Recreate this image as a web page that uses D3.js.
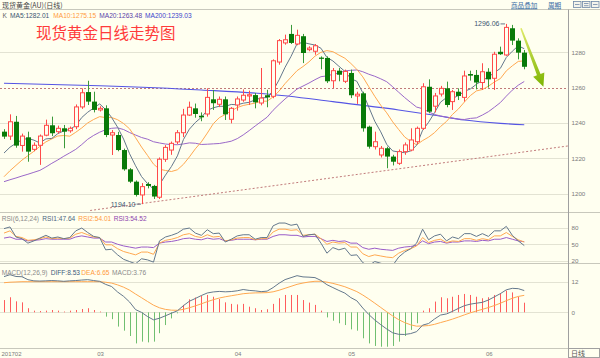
<!DOCTYPE html>
<html><head><meta charset="utf-8">
<script src="https://cdn.jsdelivr.net/npm/d3@7"></script>
<style>
html,body{margin:0;padding:0;background:#fffff0;}
svg{display:block;font-family:"Liberation Sans","DejaVu Sans",sans-serif;}
</style></head><body>
<svg id="c" width="600" height="358"></svg>
<script>
// ---------- DATA ----------
const dates = ["02-07","02-08","02-09","02-10","02-13","02-14","02-15","02-16","02-17","02-20","02-21","02-22","02-23","02-24","02-27","02-28",
"03-01","03-02","03-03","03-06","03-07","03-08","03-09","03-10","03-13","03-14","03-15","03-16","03-17","03-20","03-21","03-22","03-23","03-24","03-27","03-28","03-29","03-30","03-31",
"04-03","04-04","04-05","04-06","04-07","04-10","04-11","04-12","04-13","04-17","04-18","04-19","04-20","04-21","04-24","04-25","04-26","04-27","04-28",
"05-01","05-02","05-03","05-04","05-05","05-08","05-09","05-10","05-11","05-12","05-15","05-16","05-17","05-18","05-19","05-22","05-23","05-24","05-25","05-26","05-29","05-30","05-31",
"06-01","06-02","06-05","06-06","06-07","06-08","06-09"].map(d=>"2017-"+d);

const open = [1235.1,1232.6,1240.7,1227.3,1231.9,1225.1,1227.4,1233.1,1238.7,1235.1,
1237.0,1235.6,1237.9,1249.1,1257.5,1252.1,1247.4,1248.3,1233.2,1233.2,
1224.7,1213.8,1206.8,1199.3,1205.5,1204.4,1198.0,1219.5,1224.7,1229.3,
1234.5,1244.5,1248.3,1244.1,1245.1,1253.4,1250.6,1253.4,1242.1,1250.2,
1253.0,1255.3,1255.8,1251.3,1255.7,1255.1,1274.5,1285.3,1290.4,1284.7,
1289.1,1281.5,1280.6,1277.0,1276.8,1263.9,1269.6,1263.6,1268.3,1255.3,
1256.8,1237.9,1226.6,1221.9,1225.7,1221.0,1217.2,1223.8,1224.7,1229.4,
1237.0,1260.5,1249.5,1256.4,1259.6,1252.1,1257.7,1254.5,1267.7,1267.2,
1262.9,1269.0,1265.3,1280.3,1278.5,1293.6,1286.6,1279.8];
const high = [1236.5,1244.9,1244.0,1234.0,1235.1,1229.0,1233.5,1241.9,1243.6,1238.5,
1238.9,1238.0,1250.5,1259.6,1263.9,1257.7,1249.5,1250.0,1236.0,1235.0,
1225.5,1214.5,1207.5,1206.0,1206.5,1205.0,1220.5,1227.5,1229.5,1236.0,
1248.0,1252.1,1251.0,1246.0,1259.6,1258.7,1255.0,1255.0,1249.0,1255.0,
1259.0,1258.3,1257.0,1271.1,1258.8,1276.0,1287.5,1290.0,1295.5,1292.8,
1290.4,1283.4,1284.7,1277.7,1277.7,1271.1,1271.1,1270.2,1270.2,1257.7,
1257.7,1238.5,1235.1,1227.0,1226.6,1222.0,1225.0,1229.0,1237.0,1238.0,
1262.5,1264.7,1257.0,1261.0,1263.4,1258.7,1259.6,1269.6,1269.6,1270.0,
1273.8,1271.0,1280.3,1283.2,1296.06,1295.5,1287.9,1281.3];
const low = [1231.0,1230.4,1226.0,1223.8,1218.1,1224.0,1216.3,1232.5,1232.6,1234.0,
1225.7,1234.5,1236.5,1248.0,1250.2,1246.0,1246.5,1232.0,1221.9,1224.0,
1213.0,1206.0,1198.4,1194.1,1203.0,1197.0,1197.0,1218.0,1222.0,1228.0,
1232.0,1244.0,1243.0,1241.0,1243.6,1247.4,1249.0,1241.7,1239.8,1247.0,
1252.0,1250.2,1248.3,1250.0,1248.9,1254.0,1273.0,1284.3,1284.7,1284.0,
1273.9,1280.6,1278.6,1270.4,1262.6,1259.8,1263.6,1262.6,1254.1,1250.8,
1235.1,1225.5,1225.0,1220.5,1214.4,1216.0,1216.3,1222.0,1224.0,1228.0,
1236.0,1245.5,1246.0,1255.0,1248.9,1247.4,1253.0,1252.1,1264.0,1259.0,
1258.7,1260.0,1258.7,1278.5,1278.0,1284.1,1276.0,1270.4];
const close = [1232.3,1240.7,1227.2,1232.6,1223.8,1227.4,1232.6,1238.7,1234.2,1237.0,
1235.1,1237.0,1249.1,1257.1,1252.1,1247.4,1248.3,1233.2,1234.5,1224.7,
1213.8,1206.8,1199.3,1204.0,1204.4,1198.4,1219.5,1226.2,1228.5,1234.5,
1244.5,1248.9,1245.1,1243.2,1254.5,1251.2,1253.4,1244.9,1248.3,1253.6,
1255.7,1256.0,1251.7,1254.1,1254.5,1275.2,1286.6,1287.1,1285.3,1289.6,
1279.6,1282.4,1283.7,1276.3,1263.6,1269.6,1267.3,1269.2,1255.7,1256.3,
1237.0,1226.6,1229.4,1225.7,1221.0,1218.1,1223.8,1227.6,1230.4,1237.0,
1260.5,1246.4,1255.3,1259.6,1250.2,1257.7,1255.3,1266.6,1266.8,1262.9,
1269.0,1264.7,1278.9,1278.9,1294.1,1286.6,1279.8,1271.8];

const ma5 = [1223.0,1226.3,1228.5,1230.5,1231.3,1230.3,1228.7,1231.0,1231.3,1234.0,
1235.5,1236.4,1238.5,1243.1,1246.1,1248.5,1250.8,1247.6,1243.1,1237.6,
1230.9,1222.6,1215.8,1209.7,1205.7,1202.6,1205.1,1210.5,1215.4,1221.4,
1230.6,1236.5,1240.3,1243.2,1247.2,1248.6,1249.5,1249.4,1250.5,1250.3,
1251.2,1251.7,1253.1,1254.2,1254.4,1258.3,1264.4,1271.5,1277.7,1284.8,
1285.6,1284.8,1284.1,1282.3,1277.1,1275.1,1272.1,1269.2,1265.1,1263.6,
1257.1,1249.0,1241.0,1235.0,1227.9,1224.2,1223.6,1223.2,1224.2,1227.4,
1235.9,1240.4,1245.9,1251.8,1254.4,1253.8,1255.6,1257.9,1259.3,1261.9,
1264.1,1266.0,1268.5,1270.9,1277.1,1280.6,1283.7,1282.01];
const ma10 = [1209.6,1213.0,1216.0,1219.0,1221.5,1224.0,1226.8,1229.3,1231.0,1232.65,
1232.9,1232.55,1234.75,1237.2,1240.05,1242.0,1243.6,1243.05,1243.1,1241.85,
1239.7,1236.7,1231.7,1226.4,1221.65,1216.75,1213.85,1213.15,1212.55,1213.55,
1216.6,1220.8,1225.4,1229.3,1234.3,1239.6,1243.0,1244.85,1246.85,1248.75,
1249.9,1250.6,1251.25,1252.35,1252.35,1254.75,1258.05,1262.3,1265.95,1269.6,
1271.95,1274.6,1277.8,1280.0,1280.95,1280.35,1278.45,1276.65,1273.7,1270.35,
1266.1,1260.55,1255.1,1250.05,1245.75,1240.65,1236.3,1232.1,1229.6,1227.65,
1230.05,1232.0,1234.55,1238.0,1240.9,1244.85,1248.0,1251.9,1255.55,1258.15,
1258.95,1260.8,1263.2,1265.1,1269.5,1272.35,1274.85,1275.15];
const ma20 = [1206.8,1207.9,1208.9,1210.0,1211.0,1212.1,1213.2,1215.1,1217.2,1219.1,
1221.2,1223.1,1225.1,1227.8,1230.8,1233.0,1234.8,1236.2,1237.0,1237.25,
1236.3,1234.6,1233.2,1231.8,1230.85,1229.4,1228.7,1228.1,1227.8,1227.7,
1228.15,1228.75,1228.55,1227.85,1228.0,1228.2,1228.4,1229.0,1229.7,1231.15,
1233.25,1235.7,1238.3,1240.8,1243.3,1247.2,1250.5,1253.6,1256.4,1259.2,
1260.9,1262.6,1264.5,1266.2,1266.65,1267.55,1268.25,1269.5,1269.8,1270.0,
1269.0,1267.6,1266.45,1265.0,1263.35,1260.5,1257.4,1254.4,1251.65,1249.0,
1248.1,1246.3,1244.8,1244.0,1243.3,1242.75,1242.15,1242.0,1242.6,1242.9,
1244.5,1246.4,1248.9,1251.55,1255.2,1258.6,1261.4,1263.48];
// MA200 read at a few candles (index, value)
const ma200Idx = [0,16,33,44,55,66,72,77,83,87];
const ma200 = [1262.5,1261.1,1258.7,1256.4,1252.1,1247.4,1244.4,1241.7,1239.8,1239.03];

const rsi1 = [78,81,63,60,52,56,61,66,61,63, 60,62,74,79,71,64,62,40,41,31, 23,19,15,24,22,18,56,63,66,70,
77,79,70,66,76,69,70,54,59,65, 67,67,59,62,62,83,88,88,84,86, 64,67,68,52,34,44,40,43,30,31,
17,12,19,16,13,12,27,36,42,52, 77,58,65,68,56,63,60,69,69,64, 69,64,74,74,82,66,56,47.64];
const rsi2 = [70,74,64,62,57,58,60,63,60,61, 60,61,68,71,67,63,62,49,49,42, 37,34,31,36,36,32,52,57,59,62,
67,69,64,62,67,63,64,56,58,61, 62,62,58,60,60,72,77,77,75,76, 66,67,68,60,50,54,52,53,45,45,
33,28,31,29,27,26,34,39,42,47, 62,53,57,59,53,56,55,60,60,57, 60,58,65,65,71,64,58,54.01];
const rsi3 = [61,63,59,59,56,57,58,60,59,59, 59,59,63,65,63,61,61,54,54,50, 47,45,43,45,45,44,52,54,55,57,
60,61,59,58,61,59,60,56,57,59, 59,59,58,59,59,64,67,67,66,66, 63,64,64,60,55,57,55,56,52,52,
44,41,43,41,40,39,43,45,46,48, 56,51,54,55,52,54,54,56,56,55, 57,56,59,59,62,59,56,54.52];

const diff = [14.0,14.75,14.05,13.95,12.8,12.33,12.25,12.33,12.45,12.33,
12.15,12.33,12.45,12.65,12.8,12.45,12.15,10.94,10.1,7.95,
6.25,4.04,1.06,-0.03,-1.66,-2.95,-2.33,-1.36,-0.36,0.59,
2.6,4.34,5.42,6.58,7.58,7.99,8.19,8.03,8.14,8.43,
8.94,8.59,8.41,8.09,8.31,9.69,11.4,12.82,13.59,14.36,
13.88,13.78,13.61,12.49,10.83,9.69,8.57,7.52,5.75,4.52,
1.67,-0.86,-3.01,-4.85,-6.54,-8.04,-8.63,-8.69,-8.35,-7.59,
-5.03,-4.4,-2.62,-1.08,-0.64,0.38,1.54,2.6,3.2,3.57,
3.91,4.81,6.06,7.31,8.82,9.4,9.27,8.53];
const dea = [11.6,11.8,11.9,12.0,12.0,12.0,12.0,12.0,12.0,12.0,
12.0,12.0,12.0,12.0,12.0,12.0,12.0,11.79,11.45,10.75,
9.85,8.69,7.16,5.72,4.24,2.8,1.77,1.14,0.84,0.79,
1.15,1.79,2.52,3.33,4.18,4.94,5.59,6.08,6.49,6.88,
7.29,7.49,7.61,7.64,7.71,8.04,8.65,9.42,10.19,10.96,
11.48,11.88,12.16,12.16,11.83,11.34,10.72,10.02,9.1,8.12,
6.77,5.24,3.59,1.9,0.21,-1.44,-2.88,-4.04,-4.9,-5.44,
-5.36,-5.2,-4.72,-4.03,-3.39,-2.67,-1.86,-1.0,-0.2,0.52,
1.16,1.86,2.66,3.56,4.57,5.5,6.22,6.65];
const macd = [4.8,5.9,4.3,3.9,1.6,0.65,0.5,0.65,0.9,0.65,
0.3,0.65,0.9,1.3,1.6,0.9,0.3,-1.7,-2.7,-5.6,
-7.2,-9.3,-12.2,-11.5,-11.8,-11.5,-8.2,-5.0,-2.4,-0.4,
2.9,5.1,5.8,6.5,6.8,6.1,5.2,3.9,3.3,3.1,
3.3,2.2,1.6,0.9,1.2,3.3,5.5,6.8,6.8,6.8,
4.8,3.8,2.9,0.65,-2.0,-3.3,-4.3,-5.0,-6.7,-7.2,
-10.2,-12.2,-13.2,-13.5,-13.5,-13.2,-11.5,-9.3,-6.9,-4.3,
0.65,1.6,4.2,5.9,5.5,6.1,6.8,7.2,6.8,6.1,
5.5,5.9,6.8,7.5,8.5,7.8,6.1,3.76];

const priceTicks = [1200,1220,1240,1260,1280];
const rsiTicks = [20,50,80];
const macdTicks = [0,12];
const monthLabels = ["201702","03","04","05","06"];
const refLevel = 1260;
const trendLine = [[14.4,1190.5],[94.3,1227.0]];      // [candle index, price]
const arrowPts = [[86.45,1293.6],[90.2,1260.5]];
const highMark = {i:84, v:1296.06, text:"1296.06"};
const lowMark = {i:23, v:1194.10, text:"1194.10"};

// ---------- LAYOUT ----------
const W=600, H=358, AX=568.5, BG="#fffff0";
const C = {up:"#ff4a4a", down:"#087a08", downWick:"#3a9a3a", ma5:"#64788c", ma10:"#ffa850", ma20:"#9a68c8", ma200:"#5555e4",
  grid:"#e3e3d3", sep:"#c8c8bc", axis:"#a0a0a0", lbl:"#7a7a7a", dot:"#c07a7a", barUp:"#ff5c5c", barDn:"#70bf70"};

const svg = d3.select("#c");
svg.append("rect").attr("width",W).attr("height",H).attr("fill",BG);
const defs = svg.append("defs");
[["clipMain",10,202],["clipRsi",213,50],["clipMacd",264,84]].forEach(([id,y,h])=>{
  defs.append("clipPath").attr("id",id).append("rect").attr("x",0).attr("y",y).attr("width",AX).attr("height",h);
});

const n = dates.length;
const xp = d3.scalePoint().domain(dates).range([4, 4+(n-1)*5.98]);
const xi = d3.scaleLinear().domain([0,n-1]).range([4, 4+(n-1)*5.98]);
const yP = d3.scaleLinear().domain([1200,1280]).range([193.7,52.3]);
const yR = d3.scaleLinear().domain([20,80]).range([261,227.5]);
const yM = d3.scaleLinear().domain([0,12]).range([312.3,281.7]);
const cx = i => Math.round(xp(dates[i]))+0.5;

// gridlines
function grid(scale, ticks, skip){
  svg.append("g").selectAll("line").data(ticks.filter(t=>t!==skip)).join("line")
    .attr("x1",0).attr("x2",AX).attr("y1",d=>Math.round(scale(d))+0.5).attr("y2",d=>Math.round(scale(d))+0.5)
    .attr("stroke",C.grid).attr("stroke-width",1);
}
grid(yP, priceTicks, refLevel);
grid(yR, rsiTicks);
grid(yM, macdTicks);

// separators
svg.append("g").selectAll("line").data([9.5,212.5,263.5,348.5]).join("line")
  .attr("x1",0).attr("x2",W).attr("y1",d=>d).attr("y2",d=>d).attr("stroke",C.sep).attr("stroke-width",1.2);
svg.append("line").attr("x1",AX).attr("x2",AX).attr("y1",9.5).attr("y2",H).attr("stroke",C.axis);

// ---------- MAIN PANEL ----------
const gm = svg.append("g").attr("clip-path","url(#clipMain)");
// reference dotted level & trend line
gm.append("line").attr("x1",0).attr("x2",AX).attr("y1",Math.round(yP(refLevel))+0.5).attr("y2",Math.round(yP(refLevel))+0.5)
  .attr("stroke",C.dot).attr("stroke-dasharray","2,2");
gm.append("path").attr("d",d3.line().x(d=>xi(d[0])).y(d=>yP(d[1]))(trendLine))
  .attr("fill","none").attr("stroke",C.dot).attr("stroke-dasharray","2,2");

// MA lines
const lineIdx = (sc)=> d3.line().x((d,i)=>xp(dates[i])).y(d=>sc(d));
gm.append("path").attr("d",d3.line().curve(d3.curveMonotoneX).x((d,k)=>xi(ma200Idx[k])).y(d=>yP(d))(ma200))
  .attr("fill","none").attr("stroke",C.ma200).attr("stroke-width",1.1);
[[ma20,C.ma20],[ma10,C.ma10],[ma5,C.ma5]].forEach(([arr,col])=>{
  gm.append("path").attr("d",lineIdx(yP)(arr)).attr("fill","none").attr("stroke",col).attr("stroke-width",1);
});

// candles
const idx = d3.range(n);
const up = i => close[i]>=open[i];
gm.append("g").selectAll("line").data(idx).join("line")
  .attr("x1",cx).attr("x2",cx).attr("y1",i=>yP(high[i])).attr("y2",i=>yP(low[i]))
  .attr("stroke",i=>up(i)?C.up:C.downWick).attr("stroke-width",1);
gm.append("g").selectAll("rect").data(idx).join("rect")
  .attr("x",i=>up(i)?cx(i)-2:cx(i)-2.5)
  .attr("width",i=>up(i)?4:5)
  .attr("y",i=>yP(Math.max(open[i],close[i])))
  .attr("height",i=>Math.max(yP(Math.min(open[i],close[i]))-yP(Math.max(open[i],close[i])), 1))
  .attr("fill",i=>up(i)?BG:C.down)
  .attr("stroke",i=>up(i)?C.up:"none").attr("stroke-width",1);

// high / low marks
function mark(m, dy){
  const x = cx(m.i), y = yP(m.v);
  svg.append("text").attr("x",x-7).attr("y",y+dy).attr("text-anchor","end")
    .attr("font-size",7).attr("fill","#3d5670").text(m.text);
  svg.append("line").attr("x1",x-6).attr("x2",x-1.5).attr("y1",y).attr("y2",y).attr("stroke","#3d5670").attr("stroke-width",0.8);
}
mark(highMark, 2.4);
mark(lowMark, 2.4);

// green arrow
(function(){
  const S=[xi(arrowPts[0][0]), yP(arrowPts[0][1])], E=[xi(arrowPts[1][0]), yP(arrowPts[1][1])];
  const dx=E[0]-S[0], dy=E[1]-S[1], L=Math.hypot(dx,dy), u=[dx/L,dy/L], nn=[-u[1],u[0]];
  const hl=13, B=[E[0]-u[0]*hl, E[1]-u[1]*hl];
  const p=(P,k)=>[P[0]+nn[0]*k, P[1]+nn[1]*k];
  const pts=[p(S,0.8),p(B,1.9),p(B,6),E,p(B,-6),p(B,-1.9),p(S,-0.8)];
  const gr=defs.append("linearGradient").attr("id","ag").attr("gradientUnits","userSpaceOnUse")
    .attr("x1",S[0]).attr("y1",S[1]).attr("x2",E[0]).attr("y2",E[1]);
  gr.append("stop").attr("offset",0).attr("stop-color","#dfea6a");
  gr.append("stop").attr("offset",1).attr("stop-color","#7cb400");
  svg.append("path").attr("d","M"+pts.map(q=>q.join(",")).join("L")+"Z").attr("fill","url(#ag)");
})();

// ---------- RSI PANEL ----------
const gr = svg.append("g").attr("clip-path","url(#clipRsi)");
[[rsi3,"#9a5cc8"],[rsi2,C.ma10],[rsi1,C.ma5]].forEach(([arr,col])=>{
  gr.append("path").attr("d",lineIdx(yR)(arr)).attr("fill","none").attr("stroke",col).attr("stroke-width",1);
});

// ---------- MACD PANEL ----------
const gc = svg.append("g").attr("clip-path","url(#clipMacd)");
gc.append("g").selectAll("line").data(idx).join("line")
  .attr("x1",cx).attr("x2",cx).attr("y1",yM(0)).attr("y2",i=>yM(macd[i]))
  .attr("stroke",i=>macd[i]>=0?C.barUp:C.barDn).attr("stroke-width",1);
[[dea,C.ma10],[diff,C.ma5]].forEach(([arr,col])=>{
  gc.append("path").attr("d",lineIdx(yM)(arr)).attr("fill","none").attr("stroke",col).attr("stroke-width",1);
});

// ---------- AXES ----------
function rightAxis(scale, ticks){
  const g = svg.append("g").attr("transform",`translate(${AX},0)`)
    .call(d3.axisRight(scale).tickValues(ticks).tickSize(0).tickPadding(3).tickFormat(d3.format("d")));
  g.select(".domain").remove();
  g.selectAll("text").attr("font-size",6.2).attr("fill",C.lbl).attr("font-family","Liberation Sans, sans-serif");
}
rightAxis(yP, priceTicks);
rightAxis(yR, rsiTicks);
rightAxis(yM, macdTicks);

// month labels at first candle of each month
const firstIdx = [];
dates.forEach((d,i)=>{ if(i===0 || d.slice(5,7)!==dates[i-1].slice(5,7)) firstIdx.push(i); });
svg.append("g").selectAll("text").data(firstIdx).join("text")
  .attr("x",i=>xp(dates[i])-2.5).attr("y",355.5).attr("font-size",6).attr("fill",C.lbl)
  .text((i,k)=>monthLabels[k]);
svg.append("rect").attr("x",AX).attr("y",348.5).attr("width",31).attr("height",9).attr("fill","none").attr("stroke",C.axis);
svg.append("text").attr("x",571).attr("y",356.3).attr("font-size",7).attr("fill","#555")
  .attr("font-family","Noto Sans CJK SC").text("日线");

// ---------- TEXTS ----------
svg.append("text").attr("x",2).attr("y",7.6).attr("font-size",7).attr("fill","#444")
  .attr("font-family","Noto Sans CJK SC").text("现货黄金(AU)(日线)");
[["商品叠加",511],["周期",548]].forEach(([t,x])=>{
  svg.append("text").attr("x",x).attr("y",7.6).attr("font-size",6.6).attr("fill","#3a6ea5")
    .attr("font-family","Noto Sans CJK SC").attr("text-decoration","underline").text(t);
});
[573,582,591].forEach((x,k)=>{
  svg.append("rect").attr("x",x+0.5).attr("y",1.5).attr("width",7.5).attr("height",6).attr("fill","#f4f4ec").attr("stroke","#6f88a8").attr("stroke-width",0.8);
  svg.append("line").attr("x1",x+2).attr("x2",x+6.5).attr("y1",k===1?3.5:4.5).attr("y2",k===1?3.5:4.5).attr("stroke","#6f88a8").attr("stroke-width",0.8);
  if(k===1) svg.append("line").attr("x1",x+2).attr("x2",x+6.5).attr("y1",5.7).attr("y2",5.7).attr("stroke","#6f88a8").attr("stroke-width",0.8);
});

function legend(y, items){
  items.forEach(([t,x,col])=>{
    svg.append("text").attr("x",x).attr("y",y).attr("font-size",6.6).attr("fill",col).text(t);
  });
}
legend(18, [["K",2.5,"#666"],["MA5:"+ma5[n-1].toFixed(2),10,"#3b5670"],["MA10:"+ma10[n-1].toFixed(2),53.3,"#ff9a3c"],
  ["MA20:"+ma20[n-1].toFixed(2),99.3,"#5b3fa8"],["MA200:"+ma200[ma200.length-1].toFixed(2),145,"#3b45cc"]]);
legend(221.3, [["RSI(6,12,24)",1.7,"#8a8a8a"],["RSI1:"+rsi1[n-1].toFixed(2),42.3,"#4d6680"],["RSI2:"+rsi2[n-1].toFixed(2),78.3,"#ff9a3c"],["RSI3:"+rsi3[n-1].toFixed(2),113.7,"#8e44ad"]]);
legend(274.6, [["MACD(12,26,9)",1.7,"#8a8a8a"],["DIFF:"+diff[n-1].toFixed(2),50.7,"#3d5a7a"],["DEA:"+dea[n-1].toFixed(2),81.3,"#ff9a3c"],["MACD:"+macd[n-1].toFixed(2),112,"#8a8a8a"]]);

svg.append("text").attr("x",36).attr("y",39.2).attr("font-size",15.5).attr("fill","#ff3b3b")
  .attr("font-family","Noto Sans CJK SC").text("现货黄金日线走势图");
</script>
</body></html>
